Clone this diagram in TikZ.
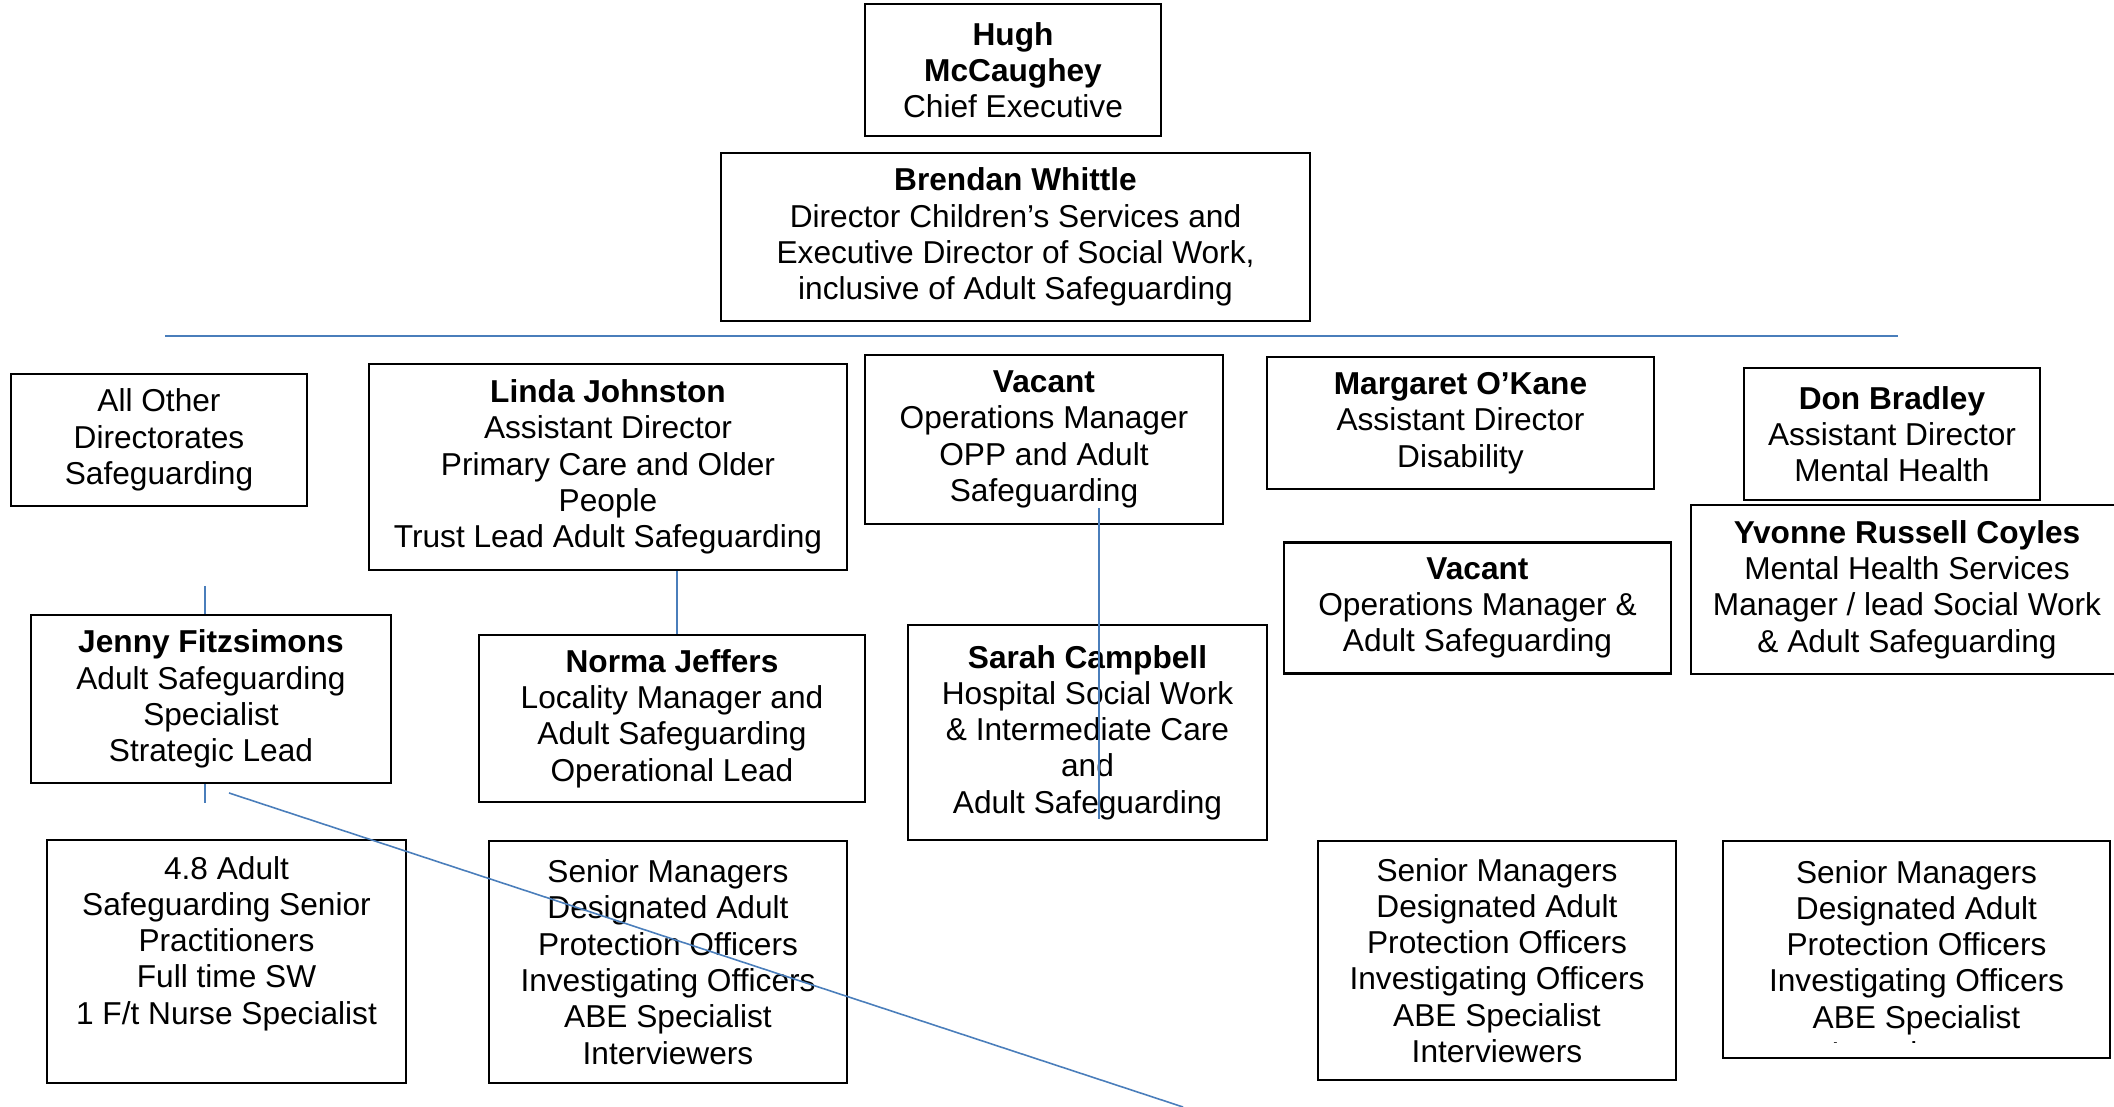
\documentclass[tikz,border=0pt]{standalone}
\usepackage{fontspec}
\setmainfont{Liberation Sans}
\usepackage{tikz}
\definecolor{lineaazul}{HTML}{4A7EBB}
\newcommand{\orgtexto}{\fontsize{9pt}{10.32pt}\selectfont}
\newcommand{\equipotexto}{Senior Managers\\Designated Adult\\Protection Officers\\Investigating Officers\\ABE Specialist\\Interviewers}
\tikzset{
    caja/.style={
        draw=black,
        line width=0.6pt,
        align=center,
        inner sep=0pt,
        font=\orgtexto
    },
    texto/.style={
        align=center,
        inner sep=0pt,
        font=\orgtexto
    },
    enlace/.style={
        draw=lineaazul,
        line width=0.55pt
    },
    enlacefino/.style={
        draw=lineaazul,
        line width=0.3pt
    }
}

\begin{document}
\begin{tikzpicture}[
    x=0.01cm,
    y=-0.01cm
]
    \useasboundingbox (0,0) rectangle (2114,1107);

    % Direccion
    \node[caja, minimum width=2.96cm, minimum height=1.32cm] (ceo) at (1013,70)
        {\textbf{Hugh}\\\textbf{McCaughey}\\Chief Executive};
    \node[caja, minimum width=5.89cm, minimum height=1.68cm] (whittle) at (1015.5,237)
        {\textbf{Brendan Whittle}\\Director Children’s Services and\\Executive Director of Social Work,\\inclusive of Adult Safeguarding};

    % Directores asistentes
    \node[caja, minimum width=2.96cm, minimum height=1.32cm] (otras) at (159,440)
        {All Other\\Directorates\\Safeguarding};
    \node[caja, minimum width=4.78cm, minimum height=2.06cm] (johnston) at (608,467)
        {\textbf{Linda Johnston}\\Assistant Director\\Primary Care and Older\\People\\Trust Lead Adult Safeguarding};
    \node[caja, minimum width=3.58cm, minimum height=1.69cm] (vacopp) at (1044,439.5)
        {\textbf{Vacant}\\Operations Manager\\OPP and Adult\\Safeguarding};
    \node[caja, minimum width=3.87cm, minimum height=1.32cm] (okane) at (1460.5,423)
        {\textbf{Margaret O’Kane}\\Assistant Director\\Disability};
    \node[caja, minimum width=2.96cm, minimum height=1.32cm] (bradley) at (1892,434)
        {\textbf{Don Bradley}\\Assistant Director\\Mental Health};

    % Jefes de servicio
    \node[caja, minimum width=4.32cm, minimum height=1.69cm] (coyles) at (1907,589.5)
        {\textbf{Yvonne Russell Coyles}\\Mental Health Services\\Manager / lead Social Work\\\& Adult Safeguarding};
    \node[caja, minimum width=3.87cm, minimum height=1.31cm] (vacops) at (1477.5,608)
        {\textbf{Vacant}\\Operations Manager \&\\Adult Safeguarding};
    \node[caja, minimum width=3.60cm, minimum height=1.68cm] (fitzsimons) at (211,699)
        {\textbf{Jenny Fitzsimons}\\Adult Safeguarding\\Specialist\\Strategic Lead};
    \node[caja, minimum width=3.86cm, minimum height=1.67cm] (jeffers) at (672,718.5)
        {\textbf{Norma Jeffers}\\Locality Manager and\\Adult Safeguarding\\Operational Lead};
    \node[caja, minimum width=3.59cm, minimum height=2.15cm] (campbell) at (1087.5,732.5)
        {\textbf{Sarah Campbell}\\Hospital Social Work\\\& Intermediate Care\\and\\Adult Safeguarding};

    % Equipos
    \node[caja, minimum width=3.59cm, minimum height=2.43cm] (practicos) at (226.5,961.5) {};
    \node[texto] (practicostexto) at ([yshift=0.18cm]practicos.center)
        {4.8 Adult\\Safeguarding Senior\\Practitioners\\Full time SW\\1 F/t Nurse Specialist};
    \node[caja, minimum width=3.58cm, minimum height=2.42cm] (equipoA) at (668,962) {\equipotexto};
    \node[caja, minimum width=3.58cm, minimum height=2.39cm] (equipoB) at (1497,960.5) {\equipotexto};
    \node[caja, minimum width=3.87cm, minimum height=2.17cm] (equipoC) at (1916.5,949.5) {};
    \begin{scope}
        \clip (1723,841) rectangle (2110,1043);
        \node[texto] (equipoCtexto) at (1916.5,962.5) {\equipotexto};
    \end{scope}

    % Conectores
    \coordinate (barraizq) at (165,336);
    \coordinate (barrader) at (1898,336);
    \coordinate (fitzarriba) at (205,586);
    \coordinate (fitzabajo) at (205,803);
    \coordinate (vacarriba) at (1099,508);
    \coordinate (vacabajo) at (1099,819);
    \coordinate (diagini) at (229,793);
    \coordinate (diagfin) at (1183,1107);

    \draw[enlace] (barraizq) -- (barrader);
    \draw[enlace] (fitzarriba) -- (fitzsimons.north -| fitzarriba);
    \draw[enlace] (fitzsimons.south -| fitzabajo) -- (fitzabajo);
    \draw[enlacefino] (johnston.south -| 677,0) -- (jeffers.north -| 677,0);
    \draw[enlacefino] (vacarriba) -- (vacabajo);
    \draw[enlace, line width=0.45pt] (diagini) -- (diagfin);

\end{tikzpicture}
\end{document}
